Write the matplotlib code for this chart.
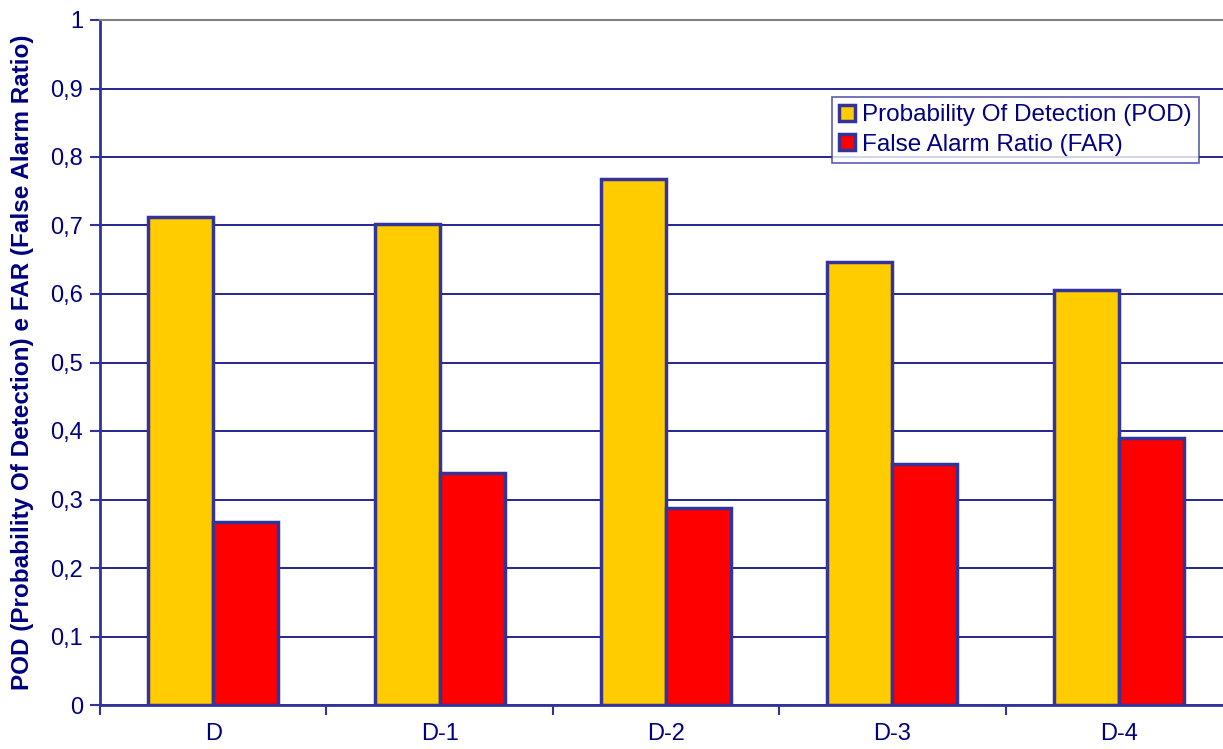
import numpy as np
import matplotlib.pyplot as plt
from matplotlib.ticker import FuncFormatter

categories = ['D', 'D-1', 'D-2', 'D-3', 'D-4']
pod = [0.712, 0.702, 0.768, 0.647, 0.606]
far = [0.267, 0.339, 0.288, 0.352, 0.390]

navy = '#000080'
edge = '#333399'

plt.rcParams['font.family'] = ['Liberation Sans', 'DejaVu Sans']

fig = plt.figure(figsize=(12.23, 7.49), dpi=100)
ax = fig.add_axes([100 / 1223, 44 / 749, 1132 / 1223, 685 / 749])

x = np.arange(len(categories))
w = 0.287
ax.bar(x - w / 2, pod, w, color='#FFCC00', edgecolor=edge, linewidth=2.5,
       label='Probability Of Detection (POD)', zorder=3)
ax.bar(x + w / 2, far, w, color='#FF0000', edgecolor=edge, linewidth=2.5,
       label='False Alarm Ratio (FAR)', zorder=3)

ax.set_xlim(-0.5, len(categories) - 0.5)
ax.set_ylim(0, 1)
ax.set_yticks(np.arange(0, 1.01, 0.1))
ax.yaxis.set_major_formatter(FuncFormatter(
    lambda v, p: '0' if v == 0 else ('1' if abs(v - 1) < 1e-9 else ('%.1f' % v).replace('.', ','))))
ax.grid(axis='y', color=navy, linewidth=1.2, zorder=0)

ax.set_xticks(x)
ax.set_xticklabels(categories)
ax.set_xticks(np.arange(-0.5, len(categories)), minor=True)
ax.tick_params(axis='x', which='major', length=0, pad=13, labelsize=17, labelcolor=navy)
ax.tick_params(axis='x', which='minor', length=7, width=1.5, color=edge, direction='out')
ax.tick_params(axis='y', length=7, width=1.5, color=edge, labelsize=17, labelcolor=navy, pad=5)

for s in ['left', 'bottom']:
    ax.spines[s].set_color(edge)
    ax.spines[s].set_linewidth(2)
ax.spines['right'].set_visible(False)
ax.spines['top'].set_color('#808080')
ax.spines['top'].set_linewidth(1.5)

ax.set_ylabel('POD (Probability Of Detection) e FAR (False Alarm Ratio)',
              fontsize=17.5, fontweight='bold', color=navy, labelpad=12)

leg = ax.legend(loc='upper right', bbox_to_anchor=(1199 / 1223, 1 - 97 / 749),
                bbox_transform=fig.transFigure, fontsize=17.5, frameon=True,
                fancybox=False, handlelength=0.65, handleheight=0.65,
                handletextpad=0.3, borderpad=0.3, labelspacing=0.3,
                borderaxespad=0)
leg.get_frame().set_edgecolor(edge)
leg.get_frame().set_linewidth(1.2)
for t in leg.get_texts():
    t.set_color(navy)

fig.savefig('out.png', dpi=100)
